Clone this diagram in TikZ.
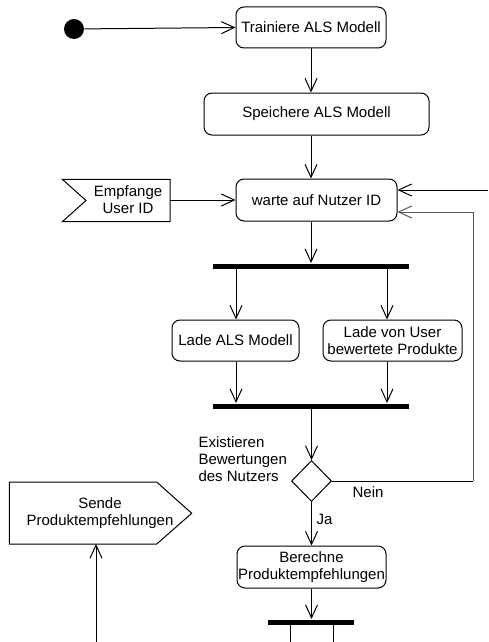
\documentclass[tikz,border=0pt]{standalone}
\usepackage{fontspec}
\setmainfont{Liberation Sans}
\usetikzlibrary{arrows.meta,shapes.geometric}
\begin{document}
\begin{tikzpicture}[x=1pt,y=-1pt,
  font=\fontsize{15}{17}\selectfont,
  line width=1pt,
  arr/.style={-{Straight Barb[length=13pt,width=12pt,line width=1pt]}},
  action/.style={draw,rounded corners=8pt,fill=white,inner sep=0pt,align=center},
  bar/.style={fill=black,inner sep=0pt,minimum height=5pt},
  loopline/.style={draw=black!65}]
\useasboundingbox (0,0) rectangle (488,642);

% start and first actions
\node[circle,fill=black,minimum size=20pt,inner sep=0pt] (start) at (74,29) {};
\node[action,minimum width=150pt,minimum height=41pt] (train) at (311,27.5) {Trainiere ALS Modell};
\node[action,minimum width=225pt,minimum height=42pt] (save) at (316.5,114) {Speichere ALS Modell};
\node[action,minimum width=161pt,minimum height=42pt] (wait) at (316.5,200) {warte auf Nutzer ID};

% signal receipt
\draw[fill=white] (62.3,179.3) -- (170,179.3) -- (170,221.7) -- (62.3,221.7) -- (86,200.5) -- cycle;
\node[align=center,inner sep=0pt] (recv) at (128,200) {Empfange\\User ID};
\coordinate (recvE) at (170,200);

% fork
\node[bar,minimum width=196pt] (fork) at (311,266) {};
\node[action,minimum width=127pt,minimum height=41pt] (loadM) at (235.5,340.5) {Lade ALS Modell};
\node[action,minimum width=139pt,minimum height=41pt] (loadU) at (392.5,340.5) {Lade von User\\bewertete Produkte};
\node[bar,minimum width=196pt] (join) at (311,406) {};
\coordinate (xM) at (236,0);
\coordinate (xU) at (387,0);

% decision
\node[diamond,draw,fill=white,minimum width=40pt,minimum height=41pt,inner sep=0pt] (dec) at (311.5,481) {};
\node[anchor=west,align=left,inner sep=0pt] (q) at (198,459.5) {Existieren\\Bewertungen\\des Nutzers};
\node[inner sep=0pt] (nein) at (368,492) {Nein};
\node[inner sep=0pt] (ja) at (324.5,519) {Ja};

\node[action,minimum width=149pt,minimum height=42pt] (calc) at (311.5,567) {Berechne\\Produktempfehlungen};
\node[bar,minimum width=86pt] (fork2) at (311,622) {};

% signal sending
\draw[fill=white] (9.3,482) -- (156.7,482) -- (191.7,513.3) -- (156.7,544) -- (9.3,544) -- cycle;
\node[align=center,inner sep=0pt] (send) at (100,513.5) {Sende\\Produktempfehlungen};
\coordinate (sendB) at (96,544);
\coordinate (sendIn) at (96,642);

% loop coordinates
\coordinate (inTop) at (488,190);
\coordinate (loopR) at (473,481);
\coordinate (loopT) at (473,212);
\coordinate (leg1) at (290,642);
\coordinate (leg2) at (333,642);

% connectors
\draw[arr] (start) -- (train.west);
\draw[arr] (train.south) -- (train.south |- save.north);
\draw[arr] (train.south |- save.south) -- (train.south |- wait.north);
\draw[arr] (recvE) -- (wait.west);
\draw[arr] (inTop) -- (inTop -| wait.east);
\draw[arr] (train.south |- wait.south) -- (fork.north);
\draw[arr] (fork.south -| xM) -- (loadM.north -| xM);
\draw[arr] (fork.south -| xU) -- (loadU.north -| xU);
\draw[arr] (loadM.south -| xM) -- (join.north -| xM);
\draw[arr] (loadU.south -| xU) -- (join.north -| xU);
\draw[arr] (join.south -| dec.north) -- (dec.north);
\draw (dec.east) -- (loopR);
\draw[loopline,arr] (loopR) -- (loopT) -- (loopT -| wait.east);
\draw[arr] (dec.south) -- (calc.north);
\draw[arr] (calc.south) -- (calc.south |- fork2.north);
\draw (fork2.south -| leg1) -- (leg1);
\draw (fork2.south -| leg2) -- (leg2);
\draw[arr] (sendIn) -- (sendB);
\end{tikzpicture}
\end{document}
